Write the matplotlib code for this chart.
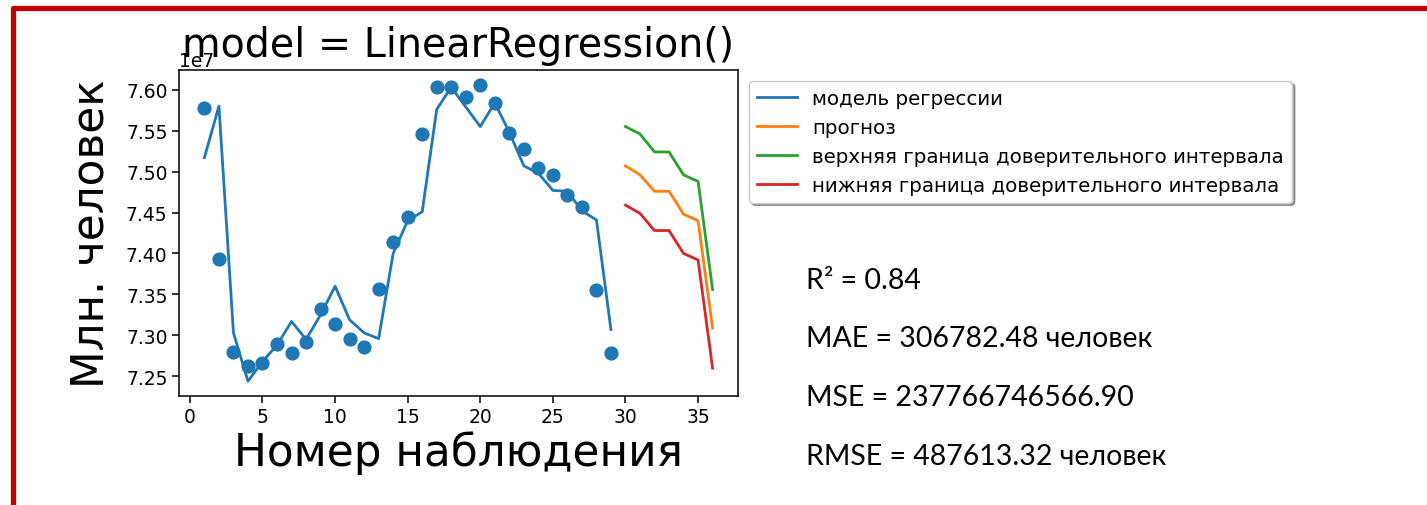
import numpy as np
import matplotlib
matplotlib.use("Agg")
import matplotlib.pyplot as plt
from matplotlib.lines import Line2D

# ── Data (values in units of 1e7 people) ─────────────────────────────────────
obs_x = list(range(1, 30))
actual = [7.578, 7.393, 7.280, 7.262, 7.266, 7.290, 7.278, 7.292, 7.332, 7.314,
          7.296, 7.286, 7.356, 7.414, 7.444, 7.546, 7.603, 7.603, 7.591, 7.606,
          7.584, 7.547, 7.527, 7.504, 7.496, 7.471, 7.457, 7.355, 7.278]
fitted = [7.517, 7.580, 7.303, 7.244, 7.268, 7.288, 7.317, 7.295, 7.325, 7.360,
          7.319, 7.303, 7.296, 7.400, 7.440, 7.451, 7.576, 7.603, 7.579, 7.555,
          7.584, 7.548, 7.507, 7.498, 7.477, 7.476, 7.452, 7.441, 7.307]

fc_x = list(range(30, 37))
forecast = [7.507, 7.496, 7.476, 7.476, 7.448, 7.440, 7.309]
upper = [7.555, 7.546, 7.524, 7.524, 7.496, 7.488, 7.356]
lower = [7.459, 7.449, 7.428, 7.428, 7.400, 7.392, 7.260]

labels = ["модель регрессии", "прогноз",
          "верхняя граница доверительного интервала",
          "нижняя граница доверительного интервала"]

metrics = ["R\u00b2 = 0.84",
           "MAE = 306782.48 человек",
           "MSE = 237766746566.90",
           "RMSE = 487613.32 человек"]

SCALE = 1e7
W, H = 1427, 506

# ── Figure (slide) ───────────────────────────────────────────────────────────
fig = plt.figure(figsize=(W / 100, H / 100), dpi=100)
fig.patch.set_facecolor("white")

# red slide border (top + left)
fig.add_artist(Line2D([12.5 / W, 12.5 / W, 1.0], [0.0, 1 - 8.5 / H, 1 - 8.5 / H],
                      transform=fig.transFigure, color="#c00000", linewidth=3.8,
                      solid_joinstyle="round", solid_capstyle="butt"))

ax = fig.add_axes([179 / W, 1 - 397 / H, (738 - 179) / W, (397 - 71) / H])

ax.scatter(obs_x, np.array(actual) * SCALE, s=85, color="#1f77b4")
ax.plot(obs_x, np.array(fitted) * SCALE, color="#1f77b4", linewidth=2.0, label=labels[0])
ax.plot(fc_x, np.array(forecast) * SCALE, color="#ff7f0e", linewidth=2.0, label=labels[1])
ax.plot(fc_x, np.array(upper) * SCALE, color="#2ca02c", linewidth=2.0, label=labels[2])
ax.plot(fc_x, np.array(lower) * SCALE, color="#d62728", linewidth=2.0, label=labels[3])

ax.set_xticks(range(0, 36, 5))
ax.tick_params(labelsize=13.5, length=4.7, width=1.1)
ax.yaxis.get_offset_text().set_fontsize(13.5)
for sp in ax.spines.values():
    sp.set_linewidth(1.1)

ax.set_title("model = LinearRegression()", fontsize=28.5, y=1.0, pad=10)
ax.set_xlabel("Номер наблюдения", fontsize=31.5, labelpad=3)
ax.set_ylabel("Млн. человек", fontsize=31.5, labelpad=10)

ax.legend(loc="upper left", bbox_to_anchor=(1.0, 1.0), fontsize=14.3, shadow=True,
          borderaxespad=0.55)

# metrics text block
baselines = [289, 347, 406, 465]
for txt, yb in zip(metrics, baselines):
    fig.text(806 / W, 1 - yb / H, txt, fontsize=20.5, family=["Lato", "DejaVu Sans"],
             va="baseline", ha="left")

fig.savefig("out.png", dpi=100)
